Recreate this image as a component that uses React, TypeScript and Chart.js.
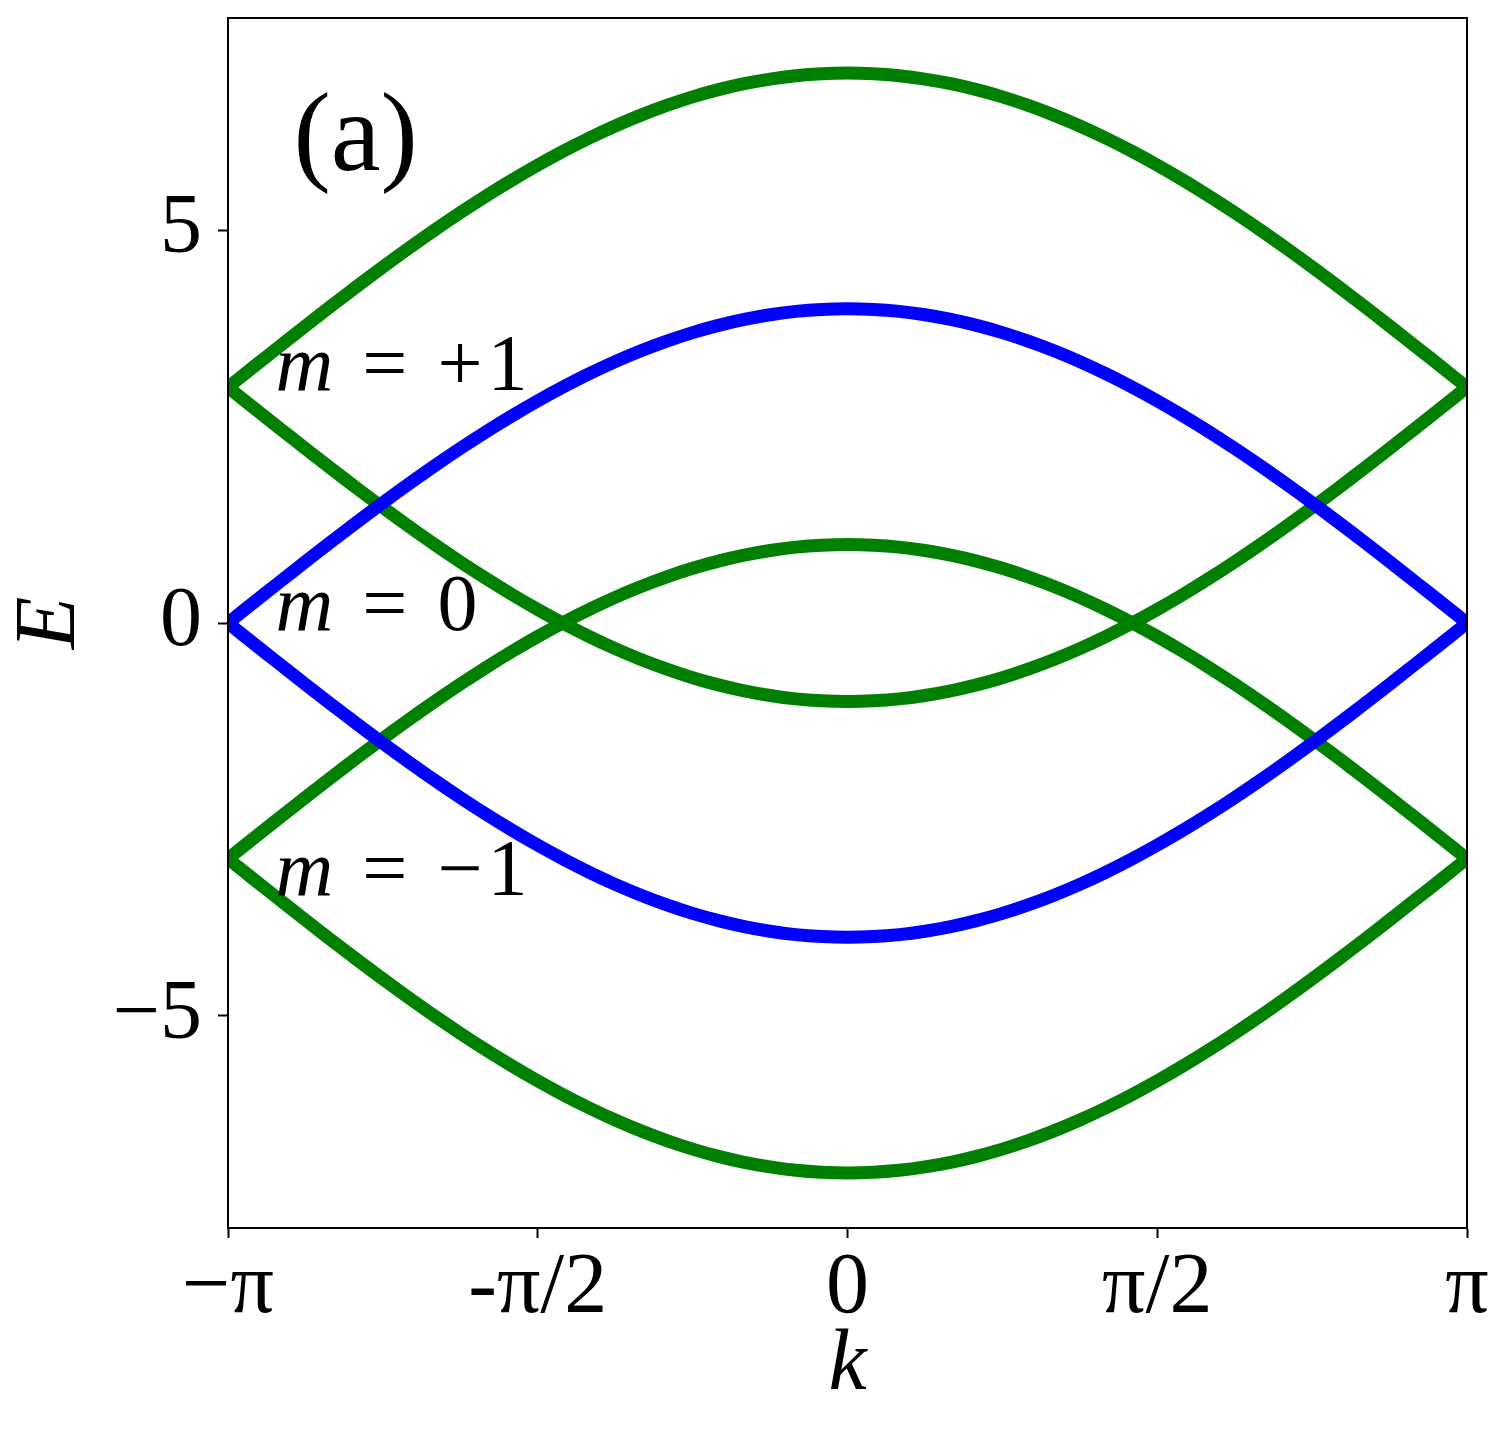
import React, { useEffect, useRef } from "react";
import { Chart, registerables } from "chart.js";

Chart.register(...registerables);

// k in units of pi/24
const kSteps = [-24, -23, -22, -21, -20, -19, -18, -17, -16, -15, -14, -13, -12, -11, -10, -9, -8, -7, -6, -5, -4, -3, -2, -1, 0, 1, 2, 3, 4, 5, 6, 7, 8, 9, 10, 11, 12, 13, 14, 15, 16, 17, 18, 19, 20, 21, 22, 23, 24];
const kTickValues = [-24, -12, 0, 12, 24];
const kTickLabels = ["−π", "-π/2", "0", "π/2", "π"];
const eTickValues = [-5, 0, 5];
const eTickLabels = ["−5", "0", "5"];

// m = +1 bands (green)
const plusUpper = [3, 3.262, 3.522, 3.78, 4.035, 4.286, 4.531, 4.769, 5, 5.222, 5.435, 5.637, 5.828, 6.007, 6.173, 6.326, 6.464, 6.587, 6.696, 6.788, 6.864, 6.923, 6.966, 6.991, 7, 6.991, 6.966, 6.923, 6.864, 6.788, 6.696, 6.587, 6.464, 6.326, 6.173, 6.007, 5.828, 5.637, 5.435, 5.222, 5, 4.769, 4.531, 4.286, 4.035, 3.78, 3.522, 3.262, 3];
const plusLower = [3, 2.738, 2.478, 2.22, 1.965, 1.714, 1.469, 1.231, 1, 0.778, 0.565, 0.363, 0.172, -0.007, -0.173, -0.326, -0.464, -0.587, -0.696, -0.788, -0.864, -0.923, -0.966, -0.991, -1, -0.991, -0.966, -0.923, -0.864, -0.788, -0.696, -0.587, -0.464, -0.326, -0.173, -0.007, 0.172, 0.363, 0.565, 0.778, 1, 1.231, 1.469, 1.714, 1.965, 2.22, 2.478, 2.738, 3];
// m = 0 bands (blue)
const zeroUpper = [0, 0.262, 0.522, 0.78, 1.035, 1.286, 1.531, 1.769, 2, 2.222, 2.435, 2.637, 2.828, 3.007, 3.173, 3.326, 3.464, 3.587, 3.696, 3.788, 3.864, 3.923, 3.966, 3.991, 4, 3.991, 3.966, 3.923, 3.864, 3.788, 3.696, 3.587, 3.464, 3.326, 3.173, 3.007, 2.828, 2.637, 2.435, 2.222, 2, 1.769, 1.531, 1.286, 1.035, 0.78, 0.522, 0.262, 0];
const zeroLower = [0, -0.262, -0.522, -0.78, -1.035, -1.286, -1.531, -1.769, -2, -2.222, -2.435, -2.637, -2.828, -3.007, -3.173, -3.326, -3.464, -3.587, -3.696, -3.788, -3.864, -3.923, -3.966, -3.991, -4, -3.991, -3.966, -3.923, -3.864, -3.788, -3.696, -3.587, -3.464, -3.326, -3.173, -3.007, -2.828, -2.637, -2.435, -2.222, -2, -1.769, -1.531, -1.286, -1.035, -0.78, -0.522, -0.262, 0];
// m = -1 bands (green)
const minusUpper = [-3, -2.738, -2.478, -2.22, -1.965, -1.714, -1.469, -1.231, -1, -0.778, -0.565, -0.363, -0.172, 0.007, 0.173, 0.326, 0.464, 0.587, 0.696, 0.788, 0.864, 0.923, 0.966, 0.991, 1, 0.991, 0.966, 0.923, 0.864, 0.788, 0.696, 0.587, 0.464, 0.326, 0.173, 0.007, -0.172, -0.363, -0.565, -0.778, -1, -1.231, -1.469, -1.714, -1.965, -2.22, -2.478, -2.738, -3];
const minusLower = [-3, -3.262, -3.522, -3.78, -4.035, -4.286, -4.531, -4.769, -5, -5.222, -5.435, -5.637, -5.828, -6.007, -6.173, -6.326, -6.464, -6.587, -6.696, -6.788, -6.864, -6.923, -6.966, -6.991, -7, -6.991, -6.966, -6.923, -6.864, -6.788, -6.696, -6.587, -6.464, -6.326, -6.173, -6.007, -5.828, -5.637, -5.435, -5.222, -5, -4.769, -4.531, -4.286, -4.035, -3.78, -3.522, -3.262, -3];

const annoItalic = ["m", "m", "m"];
const annoRest = [" = +1", " = 0", " = −1"];
const annoK = [-22.16, -22.16, -22.16];
const annoE = [2.96, -0.09, -3.46];
const panelLabel = "(a)";
const panelK = -21.46;
const panelE = 5.76;

const GREEN = "#008000";
const BLUE = "#0000ff";
const FONT = '"Liberation Serif", "DejaVu Serif", serif';

const W = 1510;
const H = 1435;

const textPlugin = {
  id: "bandText",
  afterDraw(chart: any) {
    const { ctx, chartArea } = chart;
    const x = chart.scales.x;
    const y = chart.scales.y;
    ctx.save();
    ctx.fillStyle = "#000";
    ctx.textAlign = "left";
    ctx.textBaseline = "alphabetic";
    for (let i = 0; i < annoItalic.length; i++) {
      let px = x.getPixelForValue(annoK[i]);
      const py = y.getPixelForValue(annoE[i]);
      ctx.font = `italic 80px ${FONT}`;
      ctx.fillText(annoItalic[i], px, py);
      px += ctx.measureText(annoItalic[i]).width + 4;
      ctx.font = `80px ${FONT}`;
      try { (ctx as any).letterSpacing = "5px"; } catch (e) {}
      ctx.fillText(annoRest[i], px, py);
      try { (ctx as any).letterSpacing = "0px"; } catch (e) {}
    }
    ctx.font = `112px ${FONT}`;
    ctx.fillText(panelLabel, x.getPixelForValue(panelK), y.getPixelForValue(panelE));
    ctx.strokeStyle = "#000";
    ctx.lineWidth = 2;
    ctx.strokeRect(
      Math.round(chartArea.left),
      Math.round(chartArea.top),
      Math.round(chartArea.right - chartArea.left),
      Math.round(chartArea.bottom - chartArea.top)
    );
    ctx.restore();
  },
};

function band(values: number[], color: string) {
  return {
    data: kSteps.map((k, i) => ({ x: k, y: values[i] })),
    borderColor: color,
    backgroundColor: color,
    borderWidth: 13,
    borderJoinStyle: "round" as const,
    pointRadius: 0,
    tension: 0.4,
    fill: false,
    clip: 0,
  };
}

export default function App() {
  const ref = useRef<HTMLCanvasElement | null>(null);
  useEffect(() => {
    if (!ref.current) return;
    const chart = new Chart(ref.current, {
      type: "line",
      data: {
        datasets: [
          band(zeroUpper, BLUE),
          band(zeroLower, BLUE),
          band(plusUpper, GREEN),
          band(plusLower, GREEN),
          band(minusUpper, GREEN),
          band(minusLower, GREEN),
        ],
      },
      options: {
        animation: false,
        responsive: false,
        events: [],
        layout: { padding: { top: 18, right: 43, bottom: 0, left: 0 } },
        plugins: { legend: { display: false }, tooltip: { enabled: false } },
        scales: {
          x: {
            type: "linear",
            min: -24,
            max: 24,
            z: 1,
            afterBuildTicks: (s: any) => {
              s.ticks = kTickValues.map((v) => ({ value: v }));
            },
            afterFit: (s: any) => {
              s.height = 207;
              s.paddingLeft = 0;
              s.paddingRight = 0;
            },
            ticks: {
              autoSkip: false,
              maxRotation: 0,
              minRotation: 0,
              padding: 0,
              color: "#000",
              font: { family: FONT, size: 86 },
              callback: (v: any) => kTickLabels[kTickValues.indexOf(Number(v))],
            },
            grid: { drawOnChartArea: false, tickLength: 10, tickWidth: 2, tickColor: "#000" },
            border: { display: true, color: "#000", width: 2 },
            title: {
              display: true,
              text: "k",
              color: "#000",
              font: { family: FONT, size: 86, style: "italic", lineHeight: 1.2 },
              padding: { top: 0, bottom: 17 },
            },
          },
          y: {
            type: "linear",
            min: -7.7,
            max: 7.7,
            z: 1,
            afterBuildTicks: (s: any) => {
              s.ticks = eTickValues.map((v) => ({ value: v }));
            },
            afterFit: (s: any) => {
              s.width = 228;
              s.paddingTop = 0;
              s.paddingBottom = 0;
            },
            ticks: {
              autoSkip: false,
              padding: 16,
              color: "#000",
              font: { family: FONT, size: 84 },
              callback: (v: any) => eTickLabels[eTickValues.indexOf(Number(v))],
            },
            grid: { drawOnChartArea: false, tickLength: 10, tickWidth: 2, tickColor: "#000" },
            border: { display: true, color: "#000", width: 2 },
            title: {
              display: true,
              text: "E",
              color: "#000",
              font: { family: FONT, size: 86, style: "italic", lineHeight: 1.2 },
              padding: { top: 0, bottom: 0 },
            },
          },
        },
      },
      plugins: [textPlugin],
    } as any);
    return () => chart.destroy();
  }, []);
  return (
    <div style={{ position: "absolute", left: 0, top: 0, width: W, height: H, background: "#fff" }}>
      <canvas ref={ref} width={W} height={H} style={{ display: "block" }} />
    </div>
  );
}
